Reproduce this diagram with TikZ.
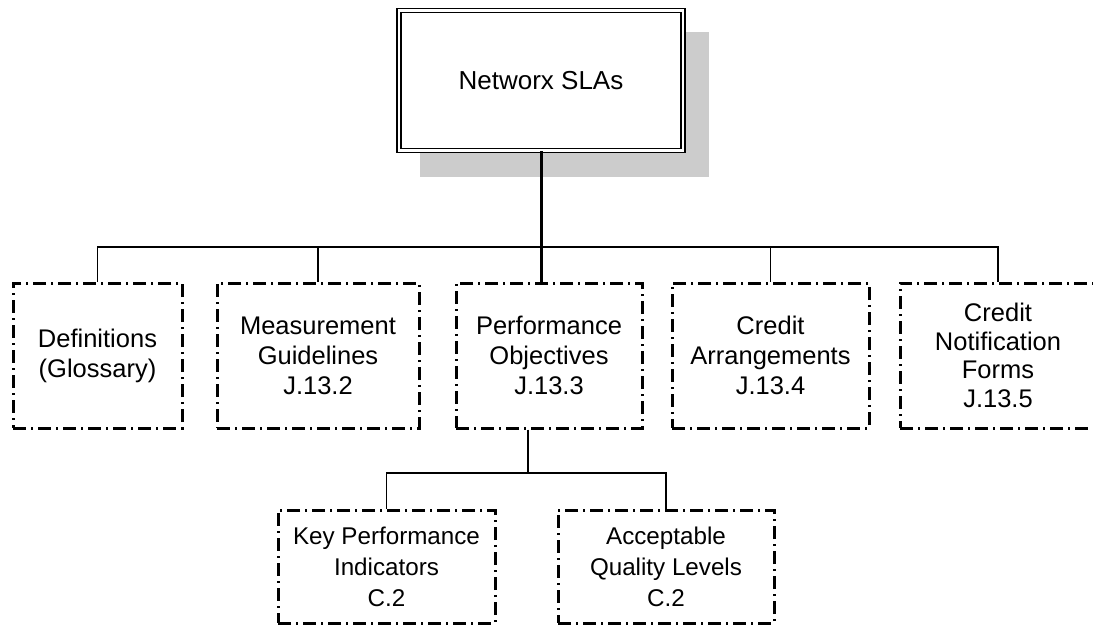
\documentclass[tikz,border=0pt]{standalone}
\usepackage{fontspec}
\setmainfont{Liberation Sans}
\begin{document}
\begin{tikzpicture}[x=1pt,y=-1pt,
  box/.style={draw=black, line width=3pt, dash pattern=on 13pt off 5pt on 2pt off 5pt, align=center, inner sep=0pt, font=\fontsize{25.5}{30}\selectfont},
  subbox/.style={box, font=\fontsize{24.2}{31}\selectfont},
  conn/.style={draw=black, line width=1.6pt},
  rootbox/.style={draw=black, line width=1.5pt, double=white, double distance=2.6pt, fill=white, align=center, inner sep=0pt, font=\fontsize{26}{30}\selectfont}]
\clip (0,0) rectangle (1093,625);
\useasboundingbox (0,0) rectangle (1093,625);
\fill[white] (0,0) rectangle (1093,625);
% shadow
\fill[black!20] (420,32) rectangle (709,177);
\node[rootbox, minimum width=284pt, minimum height=140pt] (root) at (541,80.5) {Networx SLAs};
\node[box, minimum width=169pt, minimum height=145pt] (def) at (97.5,355.5) {Definitions\\(Glossary)};
\node[box, minimum width=202pt, minimum height=145pt] (meas) at (318,355.5) {Measurement\\Guidelines\\J.13.2};
\node[box, minimum width=186pt, minimum height=145pt] (perf) at (549,355.5) {Performance\\Objectives\\J.13.3};
\node[box, minimum width=197pt, minimum height=145pt] (carr) at (770.5,355.5) {Credit\\Arrangements\\J.13.4};
\node[box, minimum width=196pt, minimum height=145pt, font=\fontsize{25.5}{28.5}\selectfont] (cnf) at (998,355.5) {Credit\\Notification\\Forms\\J.13.5};
\node[subbox, minimum width=217pt, minimum height=113pt] (kpi) at (386.5,566.5) {Key Performance\\Indicators\\C.2};
\node[subbox, minimum width=216pt, minimum height=113pt] (aql) at (666,566.5) {Acceptable\\Quality Levels\\C.2};
\coordinate (bus) at (0,247);
\coordinate (bus2) at (0,473);
% top level connectors
\draw[line width=3pt] (root.south) -- (root.south |- perf.north);
\draw[conn] (def.north) -- (def.north |- bus) -- (cnf.north |- bus) -- (cnf.north);
\draw[conn] (meas.north) -- (meas.north |- bus);
\draw[conn] (carr.north) -- (carr.north |- bus);
% sub connectors
\draw[conn] ([xshift=-21pt]perf.south) -- ([xshift=-21pt]perf.south |- bus2);
\draw[conn] (kpi.north) -- (kpi.north |- bus2) -- (aql.north |- bus2) -- (aql.north);
\end{tikzpicture}
\end{document}
